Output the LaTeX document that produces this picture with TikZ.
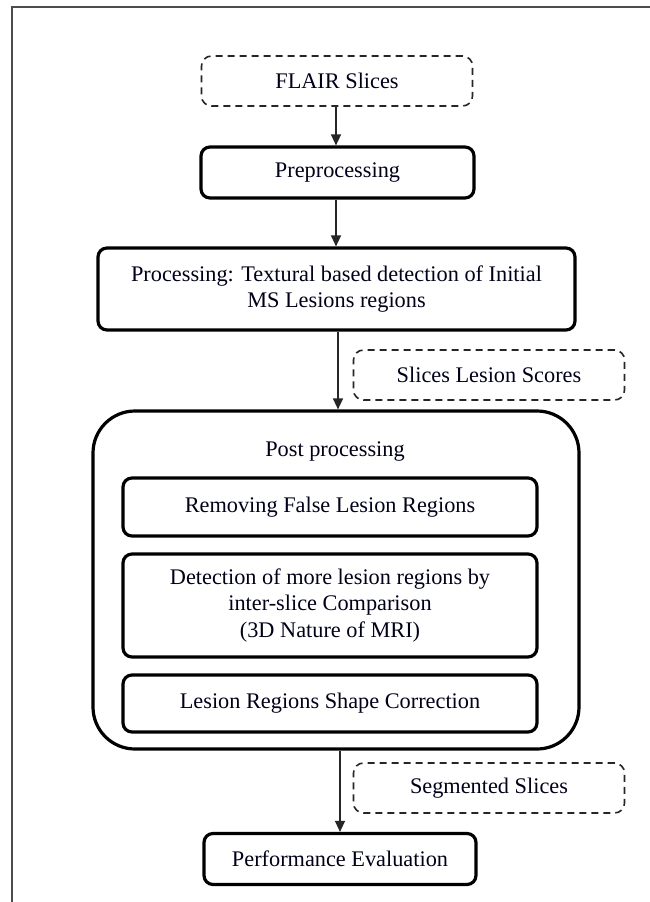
\documentclass[tikz,border=0pt]{standalone}
\usepackage{fontspec}
\setmainfont{Liberation Serif}
\usetikzlibrary{arrows.meta}
\begin{document}
\begin{tikzpicture}[x=1pt,y=-1pt,
  every node/.style={font=\fontsize{22.3}{26.5}\selectfont, text=black!90!blue, align=center, inner sep=0pt},
  databox/.style={draw=black!85, dashed, dash pattern=on 7pt off 5pt, line width=1.6pt, rounded corners=10pt},
  stagebox/.style={draw=black, line width=3.2pt, rounded corners=9pt, fill=white},
  flow/.style={draw=black!85, line width=1.4pt, -{Triangle[length=11pt,width=10pt]}},
  frameline/.style={draw=black!70, line width=2pt}
]
\useasboundingbox (0,0) rectangle (650,902);

% page frame
\coordinate (fbl) at (11.5,902);
\coordinate (ftl) at (11.5,7);
\coordinate (ftr) at (650,7);
\draw[frameline] (fbl) -- (ftl) -- (ftr);

% input and intermediate data
\node[databox, minimum width=271pt, minimum height=50pt] (flair) at (337,81) {FLAIR Slices};
\node[databox, minimum width=271pt, minimum height=50pt] (scores) at (489,375) {Slices Lesion Scores};
\node[databox, minimum width=271pt, minimum height=50pt] (seg) at (489,788) {Segmented Slices};

% processing stages
\node[stagebox, minimum width=273pt, minimum height=51pt] (pre) at (337.5,172.5) {Preprocessing};
\node[stagebox, minimum width=477pt, minimum height=82pt] (proc) at (336.5,289)
  {Processing: Textural based detection of Initial\\MS Lesions regions};

% post-processing container
\node[stagebox, rounded corners=42pt, minimum width=486pt, minimum height=338pt] (post) at (336,580) {};
\node (posttitle) at (335,452) {Post processing};
\node[stagebox, minimum width=414pt, minimum height=58pt] (remove) at (330,507) {Removing False Lesion Regions};
\node[stagebox, minimum width=414pt, minimum height=103pt] (detect) at (330,605.5)
  {Detection of more lesion regions by\\inter-slice Comparison\\(3D Nature of MRI)};
\node[stagebox, minimum width=414pt, minimum height=57pt] (shape) at (330,703.5) {Lesion Regions Shape Correction};

\node[stagebox, minimum width=272pt, minimum height=51pt] (perf) at (340,859) {Performance Evaluation};

% flow between stages
\draw[flow] (flair.south -| 336,0) -- (pre.north -| 336,0);
\draw[flow] (pre.south -| 336,0) -- (proc.north -| 336,0);
\draw[flow] (proc.south -| 338,0) -- (post.north -| 338,0);
\draw[flow] (post.south -| 340,0) -- (perf.north -| 340,0);
\end{tikzpicture}
\end{document}
